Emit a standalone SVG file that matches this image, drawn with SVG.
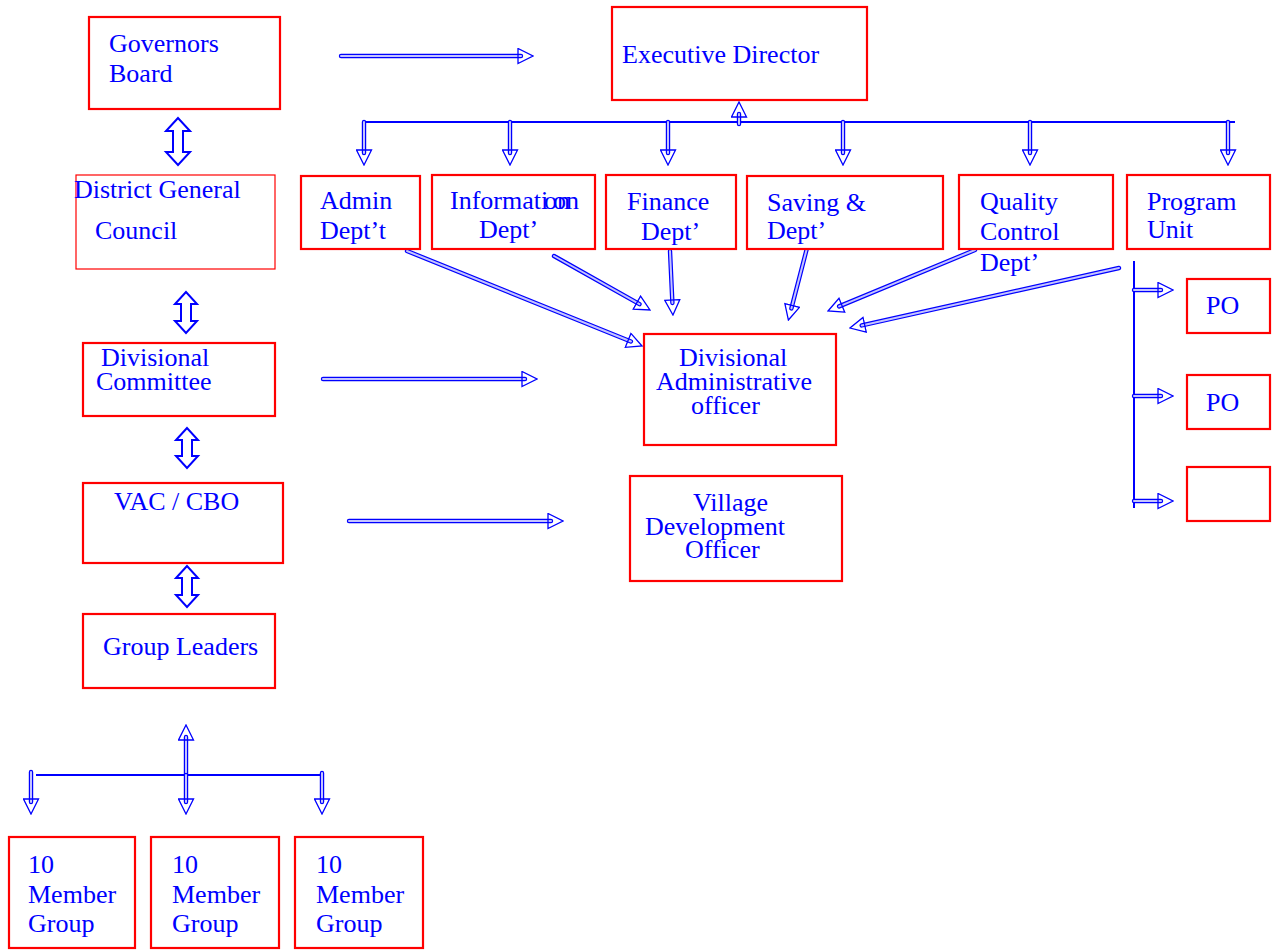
<svg xmlns="http://www.w3.org/2000/svg" width="1281" height="950" viewBox="0 0 1281 950">
<style>
.box{fill:#fff;stroke:#ff0000;stroke-width:2.2}
.thin{fill:#fff;stroke:#ff0000;stroke-width:1.2}
text{font-family:"Liberation Serif","Times New Roman",serif;font-size:26px;fill:#0000ff}
.so{fill:none;stroke:#0000ff;stroke-width:4.4;stroke-linecap:round}
.si{fill:none;stroke:#c4c4ff;stroke-width:2;stroke-linecap:round}
.bus{fill:none;stroke:#0000ff;stroke-width:2}
.dbl{fill:#fff;stroke:#0000ff;stroke-width:2;stroke-linejoin:miter}
</style>
<defs>
<marker id="ah" viewBox="0 0 17 17" refX="4" refY="8.5" markerWidth="17" markerHeight="17" markerUnits="userSpaceOnUse" orient="auto">
<path d="M1,1 L16,8.5 L1,16 Z" fill="none" stroke="#0000ff" stroke-width="1.3"/>
</marker>
</defs>

<g id="connectors">
<line class="so" x1="341" y1="56" x2="521" y2="56"/><line class="si" x1="341" y1="56" x2="521" y2="56" marker-end="url(#ah)"/>
<line class="so" x1="323" y1="379" x2="525" y2="379"/><line class="si" x1="323" y1="379" x2="525" y2="379" marker-end="url(#ah)"/>
<line class="so" x1="349" y1="521" x2="551" y2="521"/><line class="si" x1="349" y1="521" x2="551" y2="521" marker-end="url(#ah)"/>
<line class="bus" x1="364" y1="122" x2="1235" y2="122"/>
<line class="so" x1="739" y1="124" x2="739" y2="114"/><line class="si" x1="739" y1="124" x2="739" y2="114" marker-end="url(#ah)"/>
<line class="so" x1="364" y1="122" x2="364" y2="153"/><line class="si" x1="364" y1="122" x2="364" y2="153" marker-end="url(#ah)"/>
<line class="so" x1="510" y1="122" x2="510" y2="153"/><line class="si" x1="510" y1="122" x2="510" y2="153" marker-end="url(#ah)"/>
<line class="so" x1="668" y1="122" x2="668" y2="153"/><line class="si" x1="668" y1="122" x2="668" y2="153" marker-end="url(#ah)"/>
<line class="so" x1="843" y1="122" x2="843" y2="153"/><line class="si" x1="843" y1="122" x2="843" y2="153" marker-end="url(#ah)"/>
<line class="so" x1="1030" y1="122" x2="1030" y2="153"/><line class="si" x1="1030" y1="122" x2="1030" y2="153" marker-end="url(#ah)"/>
<line class="so" x1="1228" y1="122" x2="1228" y2="153"/><line class="si" x1="1228" y1="122" x2="1228" y2="153" marker-end="url(#ah)"/>
<line class="so" x1="407" y1="251" x2="630.9" y2="341.5"/><line class="si" x1="407" y1="251" x2="630.9" y2="341.5" marker-end="url(#ah)"/>
<line class="so" x1="554" y1="256" x2="639.5" y2="304.1"/><line class="si" x1="554" y1="256" x2="639.5" y2="304.1" marker-end="url(#ah)"/>
<line class="so" x1="670" y1="251" x2="672.4" y2="303"/><line class="si" x1="670" y1="251" x2="672.4" y2="303" marker-end="url(#ah)"/>
<line class="so" x1="807" y1="248" x2="791.4" y2="308.4"/><line class="si" x1="807" y1="248" x2="791.4" y2="308.4" marker-end="url(#ah)"/>
<line class="so" x1="975" y1="250" x2="839.1" y2="306.4"/><line class="si" x1="975" y1="250" x2="839.1" y2="306.4" marker-end="url(#ah)"/>
<line class="so" x1="1119" y1="268" x2="861.7" y2="325.4"/><line class="si" x1="1119" y1="268" x2="861.7" y2="325.4" marker-end="url(#ah)"/>
<line class="bus" x1="1134" y1="261" x2="1134" y2="508"/>
<line class="so" x1="1134" y1="290" x2="1161" y2="290"/><line class="si" x1="1134" y1="290" x2="1161" y2="290" marker-end="url(#ah)"/>
<line class="so" x1="1134" y1="396" x2="1161" y2="396"/><line class="si" x1="1134" y1="396" x2="1161" y2="396" marker-end="url(#ah)"/>
<line class="so" x1="1134" y1="501" x2="1161" y2="501"/><line class="si" x1="1134" y1="501" x2="1161" y2="501" marker-end="url(#ah)"/>
<polygon class="dbl" points="178,118 166,131 173,131 173,152 166,152 178,165 190,152 183,152 183,131 190,131"/>
<polygon class="dbl" points="186,292 175,304 181,304 181,321 175,321 186,333 197,321 191,321 191,304 197,304"/>
<polygon class="dbl" points="187,428 176,440 182,440 182,456 176,456 187,468 198,456 192,456 192,440 198,440"/>
<polygon class="dbl" points="187,566 176,578 182,578 182,595 176,595 187,607 198,595 192,595 192,578 198,578"/>
<line class="bus" x1="36" y1="775" x2="322" y2="775"/>
<line class="so" x1="186" y1="775" x2="186" y2="737"/><line class="si" x1="186" y1="775" x2="186" y2="737" marker-end="url(#ah)"/>
<line class="so" x1="31" y1="772" x2="31" y2="802"/><line class="si" x1="31" y1="772" x2="31" y2="802" marker-end="url(#ah)"/>
<line class="so" x1="186" y1="775" x2="186" y2="802"/><line class="si" x1="186" y1="775" x2="186" y2="802" marker-end="url(#ah)"/>
<line class="so" x1="322" y1="773" x2="322" y2="802"/><line class="si" x1="322" y1="773" x2="322" y2="802" marker-end="url(#ah)"/>
</g>

<g id="governors"><rect class="box" x="89" y="17" width="191" height="92"/><text x="109" y="52">Governors</text><text x="109" y="82">Board</text></g>
<g id="executive"><rect class="box" x="612" y="7" width="255" height="93"/><text x="622" y="63">Executive Director</text></g>
<g id="council"><rect class="thin" x="76" y="175" width="199" height="94"/><text x="74" y="198">District General</text><text x="95" y="239">Council</text></g>
<g id="divcomm"><rect class="box" x="83" y="343" width="192" height="73"/><text x="101" y="366">Divisional</text><text x="96" y="390">Committee</text></g>
<g id="vac"><rect class="box" x="83" y="483" width="200" height="80"/><text x="114" y="510">VAC / CBO</text></g>
<g id="leaders"><rect class="box" x="83" y="614" width="192" height="74"/><text x="103" y="655">Group Leaders</text></g>
<g id="group1"><rect class="box" x="9" y="837" width="126" height="111"/><text x="28" y="873">10</text><text x="28" y="903">Member</text><text x="28" y="932">Group</text></g>
<g id="group2"><rect class="box" x="151" y="837" width="128" height="111"/><text x="172" y="873">10</text><text x="172" y="903">Member</text><text x="172" y="932">Group</text></g>
<g id="group3"><rect class="box" x="295" y="837" width="128" height="111"/><text x="316" y="873">10</text><text x="316" y="903">Member</text><text x="316" y="932">Group</text></g>
<g id="admin"><rect class="box" x="301" y="176" width="119" height="73"/><text x="320" y="209">Admin</text><text x="320" y="239">Dept’t</text></g>
<g id="information"><rect class="box" x="432" y="175" width="163" height="74"/><text y="209"><tspan x="450">Informati</tspan><tspan x="544">on</tspan></text><text x="553" y="209">on</text><text x="479" y="238">Dept’</text></g>
<g id="finance"><rect class="box" x="606" y="175" width="130" height="74"/><text x="627" y="210">Finance</text><text x="641" y="240">Dept’</text></g>
<g id="saving"><rect class="box" x="747" y="176" width="196" height="73"/><text x="767" y="211">Saving &amp;</text><text x="767" y="239">Dept’</text></g>
<g id="quality"><rect class="box" x="959" y="175" width="154" height="74"/><text x="980" y="210">Quality</text><text x="980" y="240">Control</text><text x="980" y="271">Dept’</text></g>
<g id="program"><rect class="box" x="1127" y="175" width="143" height="74"/><text x="1147" y="210">Program</text><text x="1147" y="238">Unit</text></g>
<g id="po1"><rect class="box" x="1187" y="279" width="83" height="54"/><text x="1206" y="314">PO</text></g>
<g id="po2"><rect class="box" x="1187" y="375" width="83" height="54"/><text x="1206" y="411">PO</text></g>
<g id="po3"><rect class="box" x="1187" y="467" width="83" height="54"/></g>
<g id="dao"><rect class="box" x="644" y="334" width="192" height="111"/><text x="679" y="366">Divisional</text><text x="656" y="390">Administrative</text><text x="691" y="414">officer</text></g>
<g id="vdo"><rect class="box" x="630" y="476" width="212" height="105"/><text x="693" y="511">Village</text><text x="645" y="535">Development</text><text x="685" y="558">Officer</text></g>
</svg>
